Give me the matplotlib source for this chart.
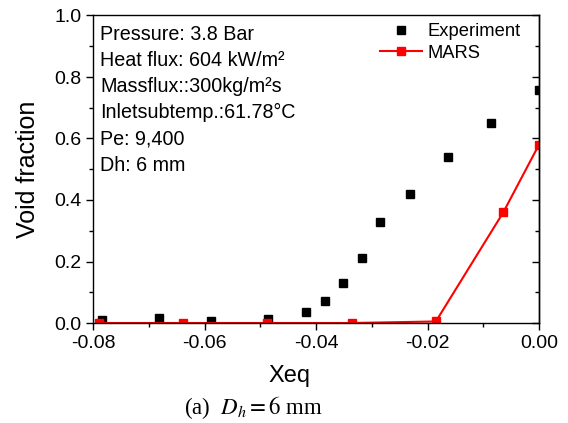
import matplotlib
matplotlib.use("Agg")
import matplotlib.pyplot as plt
from matplotlib.ticker import MultipleLocator, FormatStrFormatter

plt.rcParams['font.family'] = ['Liberation Sans', 'DejaVu Sans']
plt.rcParams['axes.unicode_minus'] = False

# measured void fraction vs equilibrium quality
exp_x = [-0.0784, -0.0682, -0.0589, -0.0486, -0.0418, -0.0384, -0.0351,
         -0.0318, -0.0286, -0.0231, -0.0164, -0.0086, 0.0]
exp_y = [0.010, 0.015, 0.008, 0.012, 0.035, 0.071, 0.131,
         0.213, 0.327, 0.419, 0.541, 0.652, 0.757]

# MARS code prediction
mars_x = [-0.0789, -0.0638, -0.0487, -0.0335, -0.0185, -0.0064, 0.0]
mars_y = [0.0, 0.0, 0.0, 0.0, 0.005, 0.36, 0.58]

info_lines = ["Pressure: 3.8 Bar",
              "Heat flux: 604 kW/m\u00b2",
              "Massflux::300kg/m\u00b2s",
              "Inletsubtemp.:61.78\u00b0C",
              "Pe: 9,400",
              "Dh: 6 mm"]

fig = plt.figure(figsize=(5.68, 4.23), dpi=100)
ax = fig.add_axes([93/568, 1 - 323/423, 446/568, 307.5/423])

ax.plot(exp_x, exp_y, linestyle='none', marker='s', markersize=6.3,
        color='black', label='Experiment')
ax.plot(mars_x, mars_y, linestyle='-', linewidth=1.5, marker='s',
        markersize=6.3, color='red', label='MARS')

ax.set_xlim(-0.08, 0.0)
ax.set_ylim(0.0, 1.0)
ax.xaxis.set_major_locator(MultipleLocator(0.02))
ax.xaxis.set_minor_locator(MultipleLocator(0.01))
ax.yaxis.set_major_locator(MultipleLocator(0.2))
ax.yaxis.set_minor_locator(MultipleLocator(0.1))
ax.xaxis.set_major_formatter(FormatStrFormatter('%.2f'))
ax.yaxis.set_major_formatter(FormatStrFormatter('%.1f'))

for s in ax.spines.values():
    s.set_linewidth(1.0)
ax.tick_params(which='both', direction='out', top=False, right=False,
               labelsize=14, width=1.0)
ax.tick_params(which='major', length=5)
ax.tick_params(which='minor', length=3)

# inward ticks on the right side only
sec = ax.secondary_yaxis('right')
sec.yaxis.set_major_locator(MultipleLocator(0.2))
sec.yaxis.set_minor_locator(MultipleLocator(0.1))
sec.tick_params(which='both', direction='in', labelright=False, width=1.0)
sec.tick_params(which='major', length=5)
sec.tick_params(which='minor', length=3)
sec.spines['right'].set_linewidth(1.0)

ax.set_ylabel('Void fraction', fontsize=18)
ax.yaxis.set_label_coords(-0.118, 0.5)
fig.text(289/568, 1 - 376/423, 'Xeq', fontsize=17, ha='center', va='center')

for i, line in enumerate(info_lines):
    y_px = 34.3 + i * 26.2
    ax.text(100/568, 1 - y_px/423, line, transform=fig.transFigure,
            fontsize=14.2, va='center', ha='left')

ax.legend(loc='upper left', bbox_to_anchor=((380 - 93)/446, (323 - 23)/307.5),
          frameon=False, fontsize=13.2, handlelength=2.3, handletextpad=0.3,
          labelspacing=0.25, borderpad=0, borderaxespad=0)

fig.text(253/568, 1 - 408/423, '(a)  $D_h = 6$ mm', fontsize=16.5,
         family='Liberation Serif', math_fontfamily='stix',
         ha='center', va='center')

fig.savefig('out.png', dpi=100)
